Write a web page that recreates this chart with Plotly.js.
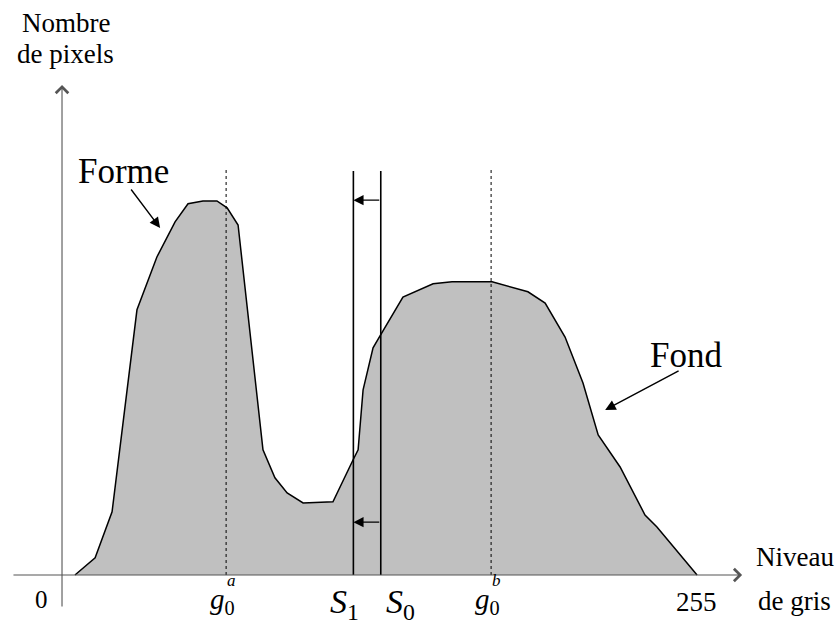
<!DOCTYPE html>
<html>
<head>
<meta charset="utf-8">
<script src="https://cdn.plot.ly/plotly-3.0.1.min.js"></script>
<style>
html,body{margin:0;padding:0;background:#fff;}
#chart{width:838px;height:624px;}
</style>
</head>
<body>
<div id="chart"></div>
<script>
// Histogram outline (gray level vs. number of pixels)
const grayLevels = [5.2, 13.3, 20.1, 24.1, 26.1, 30.1, 38.1, 45.4, 50.6, 56.6, 62.2, 66.3, 70.7, 75.5, 80.7, 85.5, 90.4, 96.8, 108.8, 116.9, 118.9, 120.9, 124.9, 127.7, 136.9, 149.0, 156.6, 172.7, 187.1, 194.0, 202.0, 209.2, 215.3, 224.1, 234.1, 238.9, 255];
const pixelCounts = [0, 43, 158, 355, 455, 663, 795, 883, 928, 935, 935, 918, 875, 605, 313, 243, 205, 180, 183, 288, 313, 463, 568, 598, 695, 728, 733, 733, 708, 680, 595, 480, 350, 270, 150, 120, 0];

// Marked gray levels
const g0a = 65.9, g0b = 172.3, S1 = 117.0, S0 = 128.0;
const markerTop = 1010;
const arrowLevels = [937, 132];

const fontName = 'Liberation Serif';

const traces = [
  {x: grayLevels, y: pixelCounts, type: 'scatter', mode: 'lines', fill: 'tozeroy',
   fillcolor: '#c0c0c0', line: {color: '#000', width: 1.5}, hoverinfo: 'skip'},
  {x: [g0a, g0a], y: [0, markerTop + 5], mode: 'lines', line: {color: '#000', width: 1, dash: 'dot'}, hoverinfo: 'skip'},
  {x: [g0b, g0b], y: [0, markerTop + 5], mode: 'lines', line: {color: '#000', width: 1, dash: 'dot'}, hoverinfo: 'skip'},
  {x: [S1, S1], y: [0, markerTop], mode: 'lines', line: {color: '#000', width: 1.6}, hoverinfo: 'skip'},
  {x: [S0, S0], y: [0, markerTop], mode: 'lines', line: {color: '#000', width: 1.6}, hoverinfo: 'skip'}
];

function arrow(x, y, ax, ay, head, size, width, color) {
  return {x: x, y: y, ax: ax, ay: ay, xref: 'x', yref: 'y', axref: 'x', ayref: 'y',
          text: '', showarrow: true, arrowhead: head, arrowsize: size, arrowwidth: width,
          arrowcolor: color, standoff: 0, startstandoff: 0};
}
function label(text, x, y, size) {
  return {x: x, y: y, xref: 'x', yref: 'y', text: text, showarrow: false,
          xanchor: 'center', yanchor: 'middle', font: {family: fontName, size: size, color: '#000'}};
}

const annotations = [
  // axes
  arrow(273.1, 0, -20.1, 0, 4, 2.2, 1.1, '#555'),
  arrow(0, 1225, 0, -82.5, 4, 2.2, 1.1, '#555'),
  // threshold shift arrows
  arrow(S1, arrowLevels[0], S0, arrowLevels[0], 2, 1.7, 1.2, '#000'),
  arrow(S1, arrowLevels[1], S0, arrowLevels[1], 2, 1.7, 1.2, '#000'),
  // Forme / Fond pointers
  arrow(39.4, 867.5, 27.3, 967.5, 2, 1.5, 1.4, '#000'),
  arrow(218.1, 412.5, 248.2, 512.5, 2, 1.5, 1.4, '#000'),
  // texts
  label('Nombre', 1.6, 1380, 27),
  label('de pixels', 1.6, 1302, 27),
  label('Niveau', 294.3, 45, 27),
  label('de gris', 294.3, -65, 27),
  label('Forme', 24.7, 1010, 35),
  label('Fond', 250.4, 550, 35),
  label('0', -8.4, -62, 25),
  label('255', 254.6, -68, 27),
  label('<i>g</i><sub>0</sub>', 64.5, -66, 29),
  label('<i>a</i>', 68.0, -14, 17),
  label('<i>g</i><sub>0</sub>', 170.7, -66, 29),
  label('<i>b</i>', 174.3, -14, 17),
  label('<i>S</i><sub>1</sub>', 113.5, -72, 34),
  label('<i>S</i><sub>0</sub>', 136.0, -72, 34)
];

const layout = {
  width: 838, height: 624,
  margin: {l: 0, r: 0, t: 0, b: 0},
  paper_bgcolor: '#fff', plot_bgcolor: '#fff',
  showlegend: false,
  xaxis: {range: [-24.9, 311.6], visible: false, fixedrange: true},
  yaxis: {range: [-122.5, 1437.5], visible: false, fixedrange: true},
  annotations: annotations
};

Plotly.newPlot('chart', traces, layout, {staticPlot: true});
</script>
</body>
</html>
